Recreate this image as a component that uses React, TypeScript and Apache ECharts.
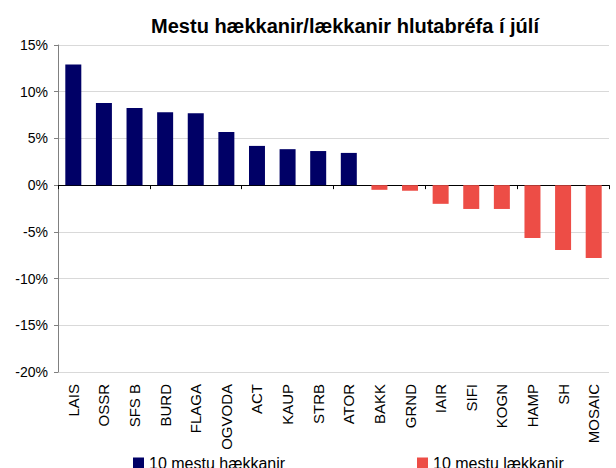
import React, { useEffect, useRef } from "react";
import * as echarts from "echarts";

const titleText = "Mestu hækkanir/lækkanir hlutabréfa í júlí";
const categories = ["LAIS", "OSSR", "SFS B", "BURD", "FLAGA", "OGVODA", "ACT", "KAUP", "STRB", "ATOR", "BAKK", "GRND", "IAIR", "SIFI", "KOGN", "HAMP", "SH", "MOSAIC"];
const seriesUpName = "10 mestu hækkanir";
const seriesDownName = "10 mestu lækkanir";
const upValues: (number | string)[] = [12.9, 8.8, 8.25, 7.8, 7.7, 5.7, 4.2, 3.85, 3.65, 3.45, "-", "-", "-", "-", "-", "-", "-", "-"];
const downValues: (number | string)[] = ["-", "-", "-", "-", "-", "-", "-", "-", "-", "-", -0.5, -0.6, -2.0, -2.55, -2.55, -5.65, -6.95, -7.8];
const yTicks = { min: -20, max: 15, interval: 5 };

const FONT = "'Liberation Sans', Arial, sans-serif";

export default function App() {
  const ref = useRef<HTMLDivElement>(null);
  useEffect(() => {
    if (!ref.current) return;
    const chart = echarts.init(ref.current, undefined, { renderer: "svg" });
    chart.setOption({
      animation: false,
      backgroundColor: "#ffffff",
      textStyle: { fontFamily: FONT },
      title: {
        text: titleText,
        left: 340,
        textAlign: "center",
        top: 11,
        textStyle: { fontFamily: FONT, fontSize: 20, fontWeight: "bold", color: "#000" },
      },
      legend: [
        {
          data: [seriesUpName],
          left: 133,
          top: 455,
          padding: 0,
          itemWidth: 11,
          itemHeight: 11,
          icon: "rect",
          itemGap: 5,
          textStyle: { fontFamily: FONT, fontSize: 16, color: "#000" },
        },
        {
          data: [seriesDownName],
          left: 417,
          top: 455,
          padding: 0,
          itemWidth: 11,
          itemHeight: 11,
          icon: "rect",
          textStyle: { fontFamily: FONT, fontSize: 16, color: "#000" },
        },
      ],
      grid: { left: 58, right: 7, top: 45, bottom: 96, containLabel: false },
      xAxis: [
        {
          type: "category",
          data: categories,
          axisLine: { onZero: true, lineStyle: { color: "#000", width: 1 } },
          axisTick: { show: true, length: 4, lineStyle: { color: "#000" } },
          axisLabel: { show: false },
          splitLine: { show: false },
        },
        {
          type: "category",
          data: categories,
          position: "bottom",
          axisLine: { show: false, onZero: false },
          axisTick: { show: false },
          axisLabel: { rotate: 90, margin: 12, fontFamily: FONT, fontSize: 15, color: "#000", interval: 0 },
        },
      ],
      yAxis: {
        type: "value",
        min: yTicks.min,
        max: yTicks.max,
        interval: yTicks.interval,
        axisLine: { show: true, lineStyle: { color: "#808080" } },
        axisTick: { show: true, length: 4, lineStyle: { color: "#808080" } },
        axisLabel: { formatter: (v: number) => `${v}%`, fontFamily: FONT, fontSize: 14, color: "#000", margin: 10 },
        splitLine: { show: true, lineStyle: { color: "#d9d9d9" } },
      },
      series: [
        {
          name: seriesUpName,
          type: "bar",
          stack: "s",
          barWidth: 16,
          data: upValues,
          itemStyle: { color: "#000066" },
        },
        {
          name: seriesDownName,
          type: "bar",
          stack: "s",
          barWidth: 16,
          data: downValues,
          itemStyle: { color: "#ED4D46" },
        },
      ],
    });
    return () => chart.dispose();
  }, []);
  return <div ref={ref} style={{ width: 616, height: 468, position: "absolute", left: 0, top: 0 }} />;
}
